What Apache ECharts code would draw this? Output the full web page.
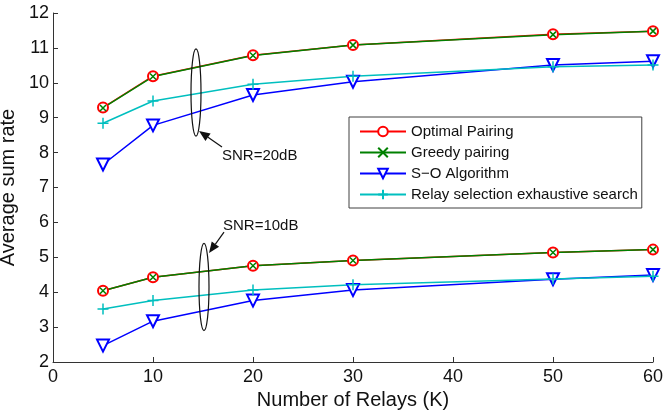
<!DOCTYPE html>
<html>
<head>
<meta charset="utf-8">
<script src="https://cdn.jsdelivr.net/npm/echarts@6/dist/echarts.min.js"></script>
<style>
  html, body { margin: 0; padding: 0; background: #fff; }
  #main { width: 665px; height: 417px; }
</style>
</head>
<body>
<div id="main"></div>
<script>
// number of relays (x axis)
const relays = [5, 10, 20, 30, 50, 60];

// SNR = 20dB
const optimal20 = [9.29, 10.19, 10.79, 11.08, 11.39, 11.48];
const greedy20 = [9.28, 10.18, 10.78, 11.08, 11.38, 11.48];
const so20 = [7.66, 8.78, 9.65, 10.03, 10.51, 10.62];
const search20 = [8.84, 9.48, 9.96, 10.19, 10.46, 10.51];

// SNR = 10dB
const optimal10 = [4.04, 4.43, 4.76, 4.91, 5.14, 5.22];
const greedy10 = [4.04, 4.43, 4.76, 4.91, 5.14, 5.22];
const so10 = [2.47, 3.17, 3.76, 4.06, 4.37, 4.49];
const search10 = [3.52, 3.76, 4.06, 4.21, 4.38, 4.46];

const names = ['Optimal Pairing', 'Greedy pairing', 'S\u2212O Algorithm', 'Relay selection exhaustive search'];

const font = 'Liberation Sans, Arial, sans-serif';
const pair = (ys) => relays.map((x, i) => [x, ys[i]]);

// marker styles, matlab-ish
const styles = [
  { color: '#ff0000', symbol: 'emptyCircle', size: 10 },
  { color: '#008000', symbol: 'path://M0,0L1,1M1,0L0,1', size: 6 },
  { color: '#0000ff', symbol: 'emptyTriangle', size: 12, rotate: 180 },
  { color: '#00bfbf', symbol: 'path://M0,0.5L1,0.5M0.5,0L0.5,1', size: 11 }
];

function makeSeries(name, ys, st) {
  return {
    name: name,
    type: 'line',
    data: pair(ys),
    symbol: st.symbol,
    symbolSize: st.size,
    symbolRotate: st.rotate || 0,
    showAllSymbol: true,
    animation: false,
    lineStyle: { color: st.color, width: 1.5 },
    itemStyle: { color: st.color, borderColor: st.color, borderWidth: 1.5 },
    emphasis: { disabled: true }
  };
}

const series = [];
[[optimal20, greedy20, so20, search20], [optimal10, greedy10, so10, search10]].forEach(group => {
  group.forEach((ys, k) => series.push(makeSeries(names[k], ys, styles[k])));
});

const chart = echarts.init(document.getElementById('main'));
chart.setOption({
  backgroundColor: '#fff',
  animation: false,
  grid: { left: 53, right: 12, top: 13, bottom: 55, outerBoundsMode: 'none' },
  legend: {
    orient: 'vertical',
    left: 349,
    top: 117,
    data: names,
    itemWidth: 46,
    itemHeight: 12,
    itemGap: 6,
    padding: [7, 4, 6, 10],
    borderColor: '#404040',
    borderWidth: 1,
    backgroundColor: '#fff',
    textStyle: { fontFamily: font, fontSize: 15, color: '#111' },
    selectedMode: false
  },
  xAxis: {
    type: 'value',
    min: 0, max: 60, interval: 10,
    name: 'Number of Relays (K)',
    nameLocation: 'middle',
    nameGap: 28,
    nameTextStyle: { fontFamily: font, fontSize: 20, color: '#111' },
    axisLine: { lineStyle: { color: '#333', width: 1 } },
    axisTick: { inside: true, length: 5, lineStyle: { color: '#333' } },
    axisLabel: { fontFamily: font, fontSize: 18, color: '#111', margin: 6 },
    splitLine: { show: false }
  },
  yAxis: {
    type: 'value',
    min: 2, max: 12, interval: 1,
    name: 'Average sum rate',
    nameLocation: 'middle',
    nameGap: 27,
    nameTextStyle: { fontFamily: font, fontSize: 20, color: '#111' },
    axisLine: { show: true, lineStyle: { color: '#333', width: 1 } },
    axisTick: { show: true, inside: true, length: 5, lineStyle: { color: '#333' } },
    axisLabel: { fontFamily: font, fontSize: 18, color: '#111', margin: 4 },
    splitLine: { show: false }
  },
  series: series
});

// annotations: ellipses + arrows, placed from data coordinates
const notes = [
  { center: [14.3, 9.72], top: 10.97, rx: 5, head: [14.6, 8.62], tail: [16.9, 8.16], label: 'SNR=20dB', text: [16.9, 7.91] },
  { center: [15.1, 4.15], top: 5.40, rx: 5, head: [15.6, 5.12], tail: [17.1, 5.72], label: 'SNR=10dB', text: [17.0, 5.90] }
];

const toPx = (p) => chart.convertToPixel({ gridIndex: 0 }, p);
const graphics = [];
notes.forEach(n => {
  const c = toPx(n.center);
  const t = toPx([n.center[0], n.top]);
  graphics.push({
    type: 'ellipse',
    shape: { cx: c[0], cy: c[1], rx: n.rx, ry: c[1] - t[1] },
    style: { fill: 'none', stroke: '#111', lineWidth: 1.2 },
    z: 10
  });
  const h = toPx(n.head);
  const tl = toPx(n.tail);
  const dx = h[0] - tl[0], dy = h[1] - tl[1];
  const len = Math.sqrt(dx * dx + dy * dy);
  const ux = dx / len, uy = dy / len;
  const al = 11, aw = 4.5;
  const bx = h[0] - ux * al, by = h[1] - uy * al;
  graphics.push({
    type: 'line',
    shape: { x1: tl[0], y1: tl[1], x2: bx, y2: by },
    style: { stroke: '#111', lineWidth: 1.2 },
    z: 10
  });
  graphics.push({
    type: 'polygon',
    shape: { points: [[h[0], h[1]], [bx - uy * aw, by + ux * aw], [bx + uy * aw, by - ux * aw]] },
    style: { fill: '#111' },
    z: 10
  });
  const tp = toPx(n.text);
  graphics.push({
    type: 'text',
    x: tp[0], y: tp[1],
    style: { text: n.label, fontFamily: font, fontSize: 15, fill: '#111', verticalAlign: 'middle', align: 'left' },
    z: 10
  });
});
chart.setOption({ graphic: graphics });
</script>
</body>
</html>
